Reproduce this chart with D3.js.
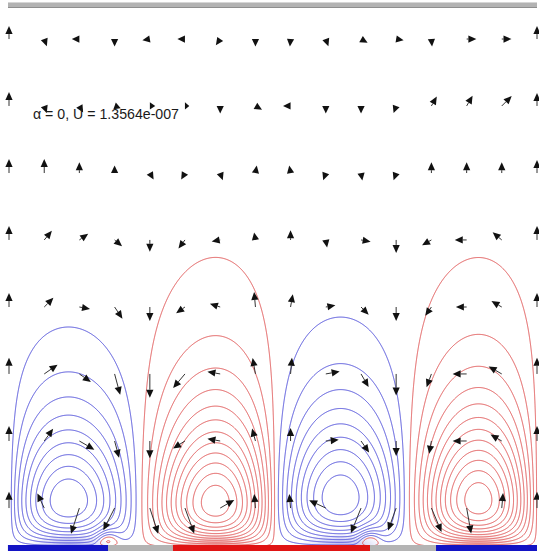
<!DOCTYPE html>
<html>
<head>
<meta charset="utf-8">
<script src="https://cdn.jsdelivr.net/npm/d3@7"></script>
<style>
  html, body { margin: 0; padding: 0; background: #ffffff; }
  svg { display: block; }
</style>
</head>
<body>
<svg id="chart" width="539" height="555"></svg>
<script>
// Electro-convection cells above a patterned electrode array:
// streamfunction contours (blue = clockwise, red = counter-clockwise) plus velocity arrows.

// ---- domain (units of one cell width) ----
const domainX = [0, 4];
const domainY = [0, 4.121];

// ---- convection cells ----
const cellLeft     = [0.000, 0.985, 2.015, 3.015];
const cellRight    = [0.985, 2.015, 3.015, 4.000];
const cellPeakX    = [0.447, 1.561, 2.508, 3.553];
const cellCoreY    = [0.356, 0.341, 0.379, 0.360];
const cellStrength = [0.96, -1.20, 0.96, -1.20];
const cellDecay    = [1.22, 1.03, 1.26, 1.12];

// ---- small corner eddies at the electrode edges ----
const eddyX        = [0.742, 2.727];
const eddyY        = [0.060, 0.060];
const eddyStrength = [-0.30, -0.30];
const eddyWidth    = [0.083, 0.083];

// ---- streamfunction contour levels ----
const levelsPositive = [0.07, 0.17, 0.27, 0.37, 0.47, 0.57, 0.67, 0.77, 0.87];
const levelsNegative = [-0.03, -0.13, -0.23, -0.33, -0.43, -0.53, -0.63, -0.73, -0.83, -0.93, -1.03, -1.13];

// ---- electrodes along the bottom wall ----
const electrodeStart    = [-0.008, 0.750, 1.242, 2.735, 3.235];
const electrodeEnd      = [0.750, 1.242, 2.735, 3.235, 4.000];
const electrodePolarity = [-1, 0, 1, 0, -1];

// ---- velocity arrows on a regular grid ----
const arrowColumns = [0, 0.267, 0.533, 0.8, 1.067, 1.333, 1.6, 1.867, 2.133, 2.4, 2.667, 2.933, 3.2, 3.467, 3.733, 4.0];
const arrowRows    = [3.848, 3.341, 2.833, 2.326, 1.818, 1.311, 0.803, 0.295];
// direction in degrees (0 = +x, 90 = +y), one list per row, top row first
const arrowDirection = [
  [90, 290, 180, 270, 190, 180, 235, 270, 265, 290, 330, 350, 275, 0, 0, 90],
  [90, 290, 300, 340, 0, 0, 270, 330, 180, 270, 270, 250, 60, 60, 45, 90],
  [90, 90, 90, 90, 300, 240, 290, 80, 100, 250, 280, 250, 90, 90, 90, 90],
  [90, 50, 35, 320, 270, 233, 190, 100, 90, 280, 350, 270, 210, 180, 140, 90],
  [90, 45, 350, 304, 270, 215, 162, 95, 80, 10, 315, 270, 235, 180, 150, 90],
  [90, 35, 325, 285, 270, 230, 170, 100, 85, 10, 300, 270, 250, 180, 150, 90],
  [90, 54, 330, 285, 270, 212, 170, 105, 90, 5, 305, 270, 260, 180, 150, 90],
  [90, 115, 252, 243, 288, 290, 30, 95, 95, 155, 248, 250, 293, 280, 85, 90]
];
// displayed arrow magnitude
const arrowSpeed = [
  [12, 7, 7, 7, 7, 7, 7, 7, 7, 7, 7, 7, 7, 9, 9, 12],
  [13, 7, 7, 6, 5, 4, 7, 7, 7, 7, 7, 7, 10, 11, 13, 12],
  [13, 13, 10, 7, 7, 7, 7, 7, 7, 7, 7, 7, 10, 10, 10, 12],
  [13, 11, 10, 9, 11, 10, 8, 7, 9, 7, 9, 12, 10, 11, 11, 13],
  [13, 12, 10, 13, 13, 10, 10, 14, 12, 9, 10, 13, 10, 10, 11, 13],
  [15, 15, 13, 20, 22, 17, 12, 15, 15, 13, 14, 20, 13, 13, 14, 15],
  [14, 14, 16, 16, 16, 13, 12, 12, 12, 12, 13, 14, 12, 13, 12, 14],
  [15, 15, 25, 23, 25, 25, 15, 13, 13, 17, 25, 22, 24, 24, 14, 15]
];

const annotation = "\u03b1 = 0, U = 1.3564e-007";

// ---------------------------------------------------------------
const svg = d3.select("#chart");
const x = d3.scaleLinear().domain(domainX).range([9, 537]);
const y = d3.scaleLinear().domain(domainY).range([547, 3]);
const speedScale = d3.scaleLinear().domain([0, 25]).range([0, 27]);

// streamfunction on a fine grid
const nx = 529, ny = 545;
const gx = d3.scaleLinear().domain([0, nx - 1]).range(domainX);
const gy = d3.scaleLinear().domain([0, ny - 1]).range([domainY[1], domainY[0]]);

const skew = cellLeft.map((l, c) => Math.log(0.5) / Math.log((cellPeakX[c] - l) / (cellRight[c] - l)));

function psi(px, py) {
  let v = 0;
  for (let c = 0; c < cellLeft.length; c++) {
    if (px < cellLeft[c] || px > cellRight[c]) continue;
    const u = (px - cellLeft[c]) / (cellRight[c] - cellLeft[c]);
    const f = Math.sin(Math.PI * Math.pow(u, skew[c]));
    const t = py / cellCoreY[c];
    const g = t > 0 ? Math.pow(t * Math.exp(1 - t), cellDecay[c]) : 0;
    v += cellStrength[c] * f * g;
  }
  for (let e = 0; e < eddyX.length; e++) {
    const t = py / eddyY[e];
    const g = t > 0 ? Math.pow(t * Math.exp(1 - t), 2) : 0;
    const dx = (px - eddyX[e]) / eddyWidth[e];
    v += eddyStrength[e] * Math.exp(-dx * dx) * g;
  }
  return v;
}

const pos = new Float64Array(nx * ny);
const neg = new Float64Array(nx * ny);
for (let j = 0; j < ny; j++) {
  const py = gy(j);
  for (let i = 0; i < nx; i++) {
    const v = psi(gx(i), py);
    pos[j * nx + i] = v;
    neg[j * nx + i] = -v;
  }
}

// soft tint where the streamlines crowd against the electrodes
const defs = svg.append("defs");
defs.append("clipPath").attr("id", "fluid")
  .append("rect")
  .attr("x", x(domainX[0])).attr("y", y(domainY[1]))
  .attr("width", x(domainX[1]) - x(domainX[0]))
  .attr("height", y(domainY[0]) - y(domainY[1]));
const tintColor = s => s > 0 ? "#4a4ad8" : "#de5050";
cellPeakX.forEach((px, c) => {
  const grad = defs.append("radialGradient").attr("id", "tint" + c);
  grad.append("stop").attr("offset", 0).attr("stop-color", tintColor(cellStrength[c])).attr("stop-opacity", 0.45);
  grad.append("stop").attr("offset", 1).attr("stop-color", tintColor(cellStrength[c])).attr("stop-opacity", 0);
});
svg.append("g").attr("clip-path", "url(#fluid)").selectAll("ellipse")
  .data(cellPeakX.map((px, c) => ({ px, c })))
  .join("ellipse")
  .attr("cx", d => x(d.px) + 2)
  .attr("cy", y(0))
  .attr("rx", 42)
  .attr("ry", 14)
  .attr("fill", d => `url(#tint${d.c})`);

const projection = d3.geoTransform({
  point(px, py) { this.stream.point(x(gx(px)), y(gy(py))); }
});
const path = d3.geoPath(projection);

const contourGen = d3.contours().size([nx, ny]);

const gContours = svg.append("g").attr("fill", "none").attr("stroke-width", 0.95);
gContours.selectAll("path.cw")
  .data(contourGen.thresholds(levelsPositive)(pos))
  .join("path")
  .attr("class", "cw")
  .attr("stroke", "#4a4ad8")
  .attr("d", path);
gContours.selectAll("path.ccw")
  .data(contourGen.thresholds(levelsNegative.map(d => -d))(neg))
  .join("path")
  .attr("class", "ccw")
  .attr("stroke", "#de5050")
  .attr("d", path);

// arrows
const arrows = [];
arrowRows.forEach((ry, r) => {
  arrowColumns.forEach((cx, c) => {
    arrows.push({ x: cx, y: ry, dir: arrowDirection[r][c], speed: arrowSpeed[r][c] });
  });
});

const gArrows = svg.append("g");
gArrows.selectAll("g.arrow")
  .data(arrows)
  .join("g")
  .attr("class", "arrow")
  .each(function (d) {
    const x0 = x(d.x), y0 = y(d.y);
    const len = speedScale(d.speed);
    const a = d.dir * Math.PI / 180;
    const ux = Math.cos(a), uy = -Math.sin(a);
    const x1 = x0 + ux * len, y1 = y0 + uy * len;
    const hl = Math.min(8, len), hw = 3.6;
    const bx = x1 - ux * hl, by = y1 - uy * hl;
    const sel = d3.select(this);
    if (len > hl) {
      sel.append("line")
        .attr("x1", x0).attr("y1", y0).attr("x2", bx).attr("y2", by)
        .attr("stroke", "#333").attr("stroke-width", 1);
    }
    sel.append("path")
      .attr("d", `M${x1},${y1}L${bx - uy * hw},${by + ux * hw}L${bx + uy * hw},${by - ux * hw}Z`)
      .attr("fill", "#111");
  });

// top wall
svg.append("rect").attr("x", x(0) - 1).attr("y", 2).attr("width", x(4) - x(0) + 1).attr("height", 6)
  .attr("fill", "#b3b3b3");
svg.append("line").attr("x1", x(0) - 1).attr("x2", x(4)).attr("y1", 2.5).attr("y2", 2.5)
  .attr("stroke", "#d6d6d6").attr("stroke-width", 1);
svg.append("line").attr("x1", x(0) - 1).attr("x2", x(4)).attr("y1", 7.5).attr("y2", 7.5)
  .attr("stroke", "#8e8e8e").attr("stroke-width", 1);

// electrodes
const electrodeColor = p => p < 0 ? "#1414c4" : p > 0 ? "#e01414" : "#b4b4b4";
svg.append("g").selectAll("rect")
  .data(electrodeStart.map((s, i) => ({ s, e: electrodeEnd[i], p: electrodePolarity[i] })))
  .join("rect")
  .attr("x", d => x(d.s))
  .attr("width", d => x(d.e) - x(d.s))
  .attr("y", y(0) - 2)
  .attr("height", 6)
  .attr("fill", d => electrodeColor(d.p));

// parameter label
svg.append("text")
  .attr("x", 33).attr("y", 119)
  .attr("font-family", "Liberation Sans, Arial, sans-serif")
  .attr("font-size", 15)
  .attr("fill", "#1a1a1a")
  .attr("textLength", 146)
  .attr("lengthAdjust", "spacingAndGlyphs")
  .text(annotation);
</script>
</body>
</html>
